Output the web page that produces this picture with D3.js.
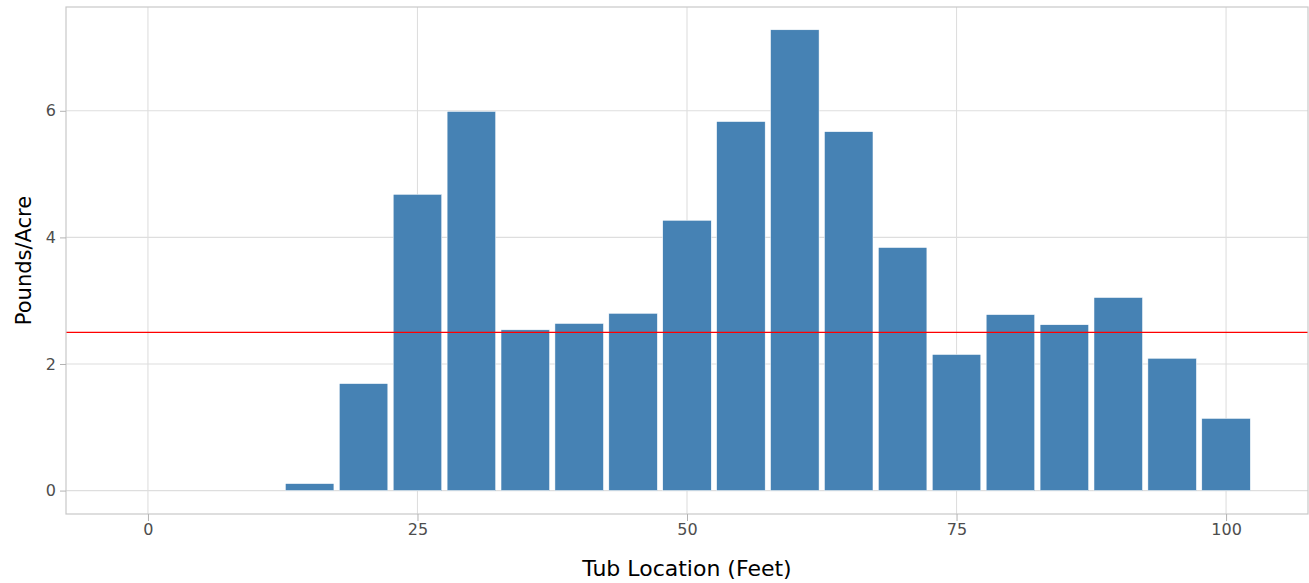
<!DOCTYPE html>
<html>
<head>
<meta charset="utf-8">
<script src="https://cdn.jsdelivr.net/npm/d3@7"></script>
<style>
  body { margin: 0; background: #fff; }
  svg text { font-family: "DejaVu Sans", Verdana, sans-serif; }
</style>
</head>
<body>
<svg id="main_svg" width="1309" height="583"></svg>
<script>
// tub positions (feet) and catch in pounds/acre
var locations = [15, 20, 25, 30, 35, 40, 45, 50, 55, 60, 65, 70, 75, 80, 85, 90, 95, 100];
var pounds = [0.11, 1.69, 4.68, 5.99, 2.54, 2.64, 2.80, 4.27, 5.83, 7.28, 5.67, 3.84, 2.15, 2.78, 2.62, 3.05, 2.09, 1.14];
var xTicks = [0, 25, 50, 75, 100];
var yTicks = [0, 2, 4, 6];
var refLine = 2.5;

var svg = d3.select("#main_svg");
var panelLeft = 66, panelRight = 1308, panelTop = 7, panelBottom = 514;

// x: 0 -> 148px, 100 -> 1226px
var x = d3.scaleLinear().domain([-7.6, 107.6]).range([panelLeft, panelRight]);
var y = d3.scaleLinear().domain([-0.37, 7.64]).range([panelBottom, panelTop]);

// grid
var grid = svg.append("g");
grid.selectAll("line.gx")
    .data(xTicks)
    .enter()
    .append("line")
    .attr("x1", function(d) { return x(d); })
    .attr("x2", function(d) { return x(d); })
    .attr("y1", panelTop)
    .attr("y2", panelBottom)
    .attr("stroke", "#dedede")
    .attr("stroke-width", 1.1);
grid.selectAll("line.gy")
    .data(yTicks)
    .enter()
    .append("line")
    .attr("x1", panelLeft)
    .attr("x2", panelRight)
    .attr("y1", function(d) { return y(d); })
    .attr("y2", function(d) { return y(d); })
    .attr("stroke", "#dedede")
    .attr("stroke-width", 1.1);

// bars
svg.append("g")
    .selectAll("rect")
    .data(locations)
    .enter()
    .append("rect")
    .attr("x", function(d) { return x(d - 2.25); })
    .attr("width", function(d) { return x(d + 2.25) - x(d - 2.25); })
    .attr("y", function(d, i) { return y(pounds[i]); })
    .attr("height", function(d, i) { return y(0) - y(pounds[i]); })
    .attr("fill", "#4682B4")
    .attr("stroke", "#ffffff")
    .attr("stroke-width", 0.5);

// reference line
svg.append("line")
    .attr("x1", panelLeft)
    .attr("x2", panelRight)
    .attr("y1", y(refLine))
    .attr("y2", y(refLine))
    .attr("stroke", "#ff0000")
    .attr("stroke-width", 1.4);

// panel border
svg.append("rect")
    .attr("x", panelLeft)
    .attr("y", panelTop)
    .attr("width", panelRight - panelLeft)
    .attr("height", panelBottom - panelTop)
    .attr("fill", "none")
    .attr("stroke", "#c8c8c8")
    .attr("stroke-width", 1.2);

// axes
var xAxis = svg.append("g")
    .attr("transform", "translate(0," + panelBottom + ")")
    .call(d3.axisBottom(x).tickValues(xTicks).tickSize(7).tickPadding(3));
var yAxis = svg.append("g")
    .attr("transform", "translate(" + panelLeft + ",0)")
    .call(d3.axisLeft(y).tickValues(yTicks).tickSize(6).tickPadding(4));
[xAxis, yAxis].forEach(function(a) {
    a.select(".domain").remove();
    a.selectAll("line").attr("stroke", "#b3b3b3");
    a.selectAll("text")
        .attr("fill", "#4d4d4d")
        .style("font-size", "16px");
});

// titles
svg.append("text")
    .attr("x", x(50))
    .attr("y", 576)
    .attr("text-anchor", "middle")
    .style("font-size", "22px")
    .attr("fill", "#000")
    .text("Tub Location (Feet)");
svg.append("text")
    .attr("transform", "translate(31," + ((panelTop + panelBottom) / 2) + ") rotate(-90)")
    .attr("text-anchor", "middle")
    .style("font-size", "21px")
    .attr("fill", "#000")
    .text("Pounds/Acre");
</script>
</body>
</html>
